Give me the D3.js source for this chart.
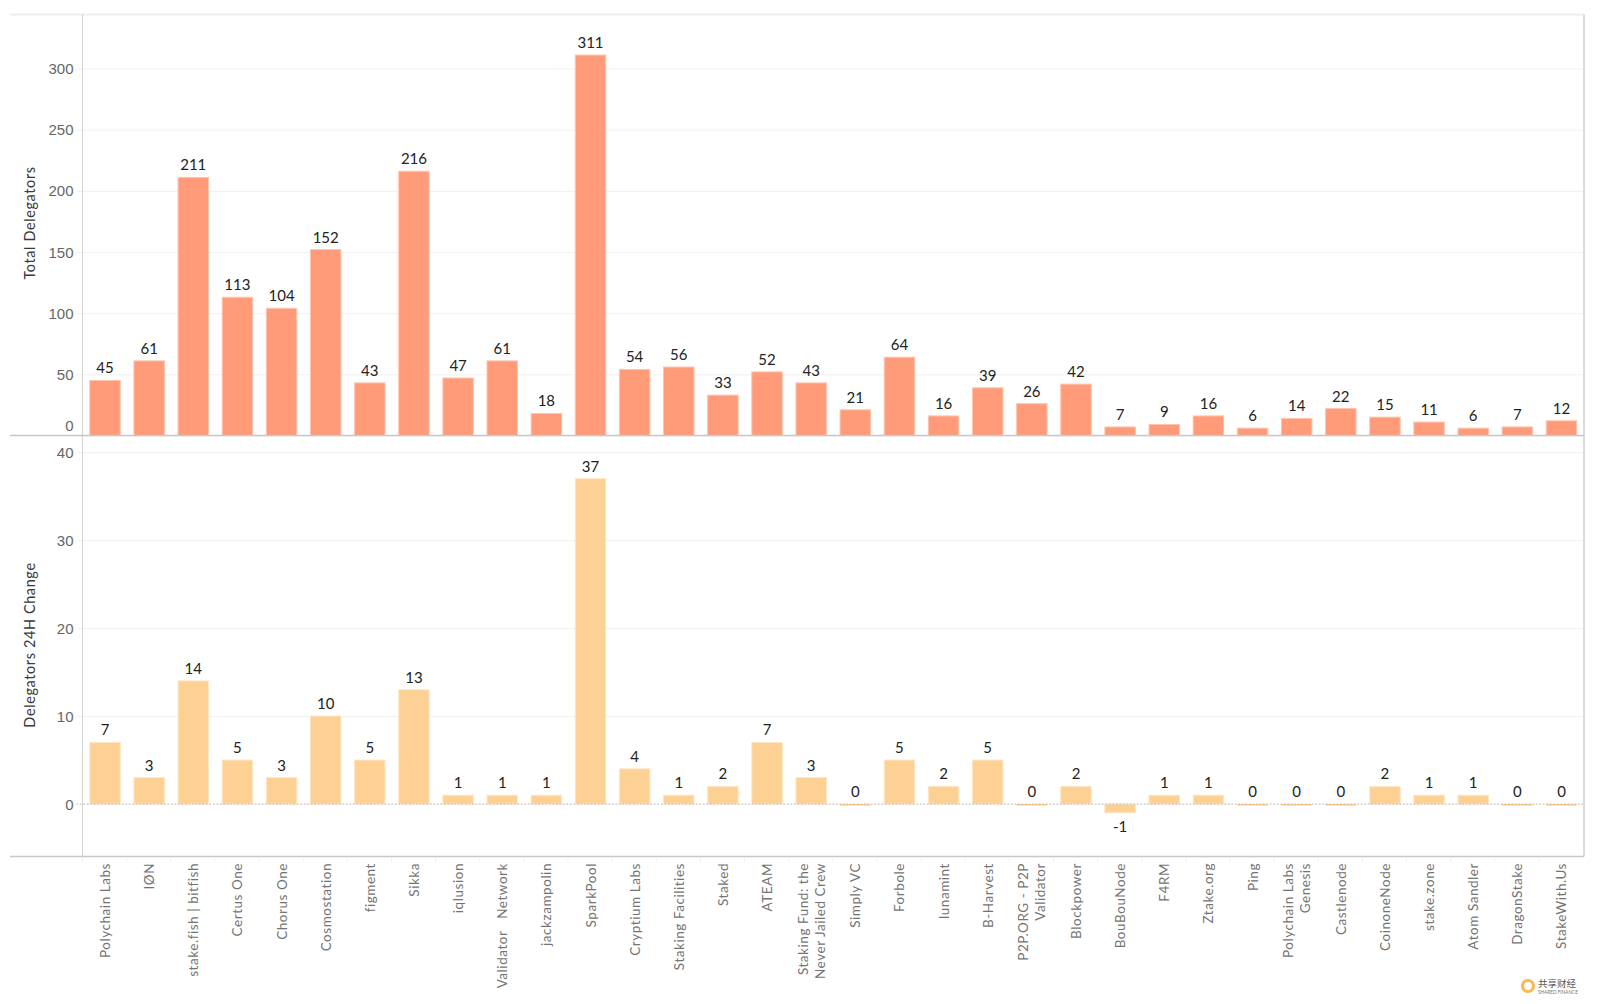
<!DOCTYPE html>
<html>
<head>
<meta charset="utf-8">
<script src="https://cdn.jsdelivr.net/npm/d3@7"></script>
<style>
  html, body { margin: 0; background: #fff; }
  svg { display: block; font-family: Lato, "Open Sans", sans-serif; }
  .tick text { fill: #666; font-size: 15px; }
  .cat text { fill: #737373; font-size: 13.5px; letter-spacing: 0.55px; }
  .val { fill: #222; font-size: 15px; text-anchor: middle; }
  .title { fill: #3a3a3a; font-size: 14.5px; letter-spacing: 0.6px; text-anchor: middle; }
</style>
</head>
<body>
<svg id="chart" width="1600" height="1004"></svg>
<script>
const categories = [
  "Polychain Labs", "IØN", "stake.fish | bitfish", "Certus One", "Chorus One", "Cosmostation",
  "figment", "Sikka", "iqlusion", "Validator   Network", "jackzampolin", "SparkPool",
  "Cryptium Labs", "Staking Facilities", "Staked", "ATEAM", "Staking Fund: the\nNever Jailed Crew",
  "Simply VC", "Forbole", "lunamint", "B-Harvest", "P2P.ORG - P2P\nValidator", "Blockpower",
  "BouBouNode", "F4RM", "Ztake.org", "Ping", "Polychain Labs\nGenesis", "Castlenode",
  "CoinoneNode", "stake.zone", "Atom Sandler", "DragonStake", "StakeWith.Us"
];
const totalDelegators = [
  45, 61, 211, 113, 104, 152, 43, 216, 47, 61, 18, 311, 54, 56, 33, 52, 43,
  21, 64, 16, 39, 26, 42, 7, 9, 16, 6, 14, 22, 15, 11, 6, 7, 12
];
const change24h = [
  7, 3, 14, 5, 3, 10, 5, 13, 1, 1, 1, 37, 4, 1, 2, 7, 3,
  0, 5, 2, 5, 0, 2, -1, 1, 1, 0, 0, 0, 2, 1, 1, 0, 0
];
const totalTicks = [0, 50, 100, 150, 200, 250, 300];
const changeTicks = [0, 10, 20, 30, 40];

const svg = d3.select("#chart");
const left = 82.5, right = 1584, top1 = 14.5, bottom = 856.5, outerLeft = 10;

const x = d3.scaleBand().domain(categories).range([left, right]).paddingInner(0.31).paddingOuter(0.165);
const yTotal = d3.scaleLinear().domain([0, 300]).range([435.5, 68.5]);
const yChange = d3.scaleLinear().domain([0, 40]).range([804, 452.3]);

function yAxis(scale, ticks) {
  const g = svg.append("g").attr("transform", `translate(${left},0)`)
    .call(d3.axisLeft(scale).tickValues(ticks).tickSize(6).tickPadding(3));
  g.select(".domain").remove();
  g.selectAll(".tick line").attr("x2", right - left).attr("x1", -6).attr("stroke", "#f0f0f0");
  g.selectAll(".tick text").attr("dy", "0.34em");
  return g;
}

function bars(values, scale, color, edge, flat) {
  const zero = scale(0);
  svg.append("g").selectAll("rect").data(values).join("rect")
    .attr("x", (d, i) => x(categories[i]))
    .attr("width", x.bandwidth())
    .attr("y", d => d >= 0 ? scale(d) : zero)
    .attr("height", d => d === 0 ? 1.5 : Math.abs(scale(d) - zero))
    .attr("fill", d => d === 0 ? flat : color)
    .attr("stroke", d => d === 0 ? "none" : edge)
    .attr("stroke-width", 1);
  svg.append("g").selectAll("text").data(values).join("text")
    .attr("class", "val")
    .attr("x", (d, i) => x(categories[i]) + x.bandwidth() / 2)
    .attr("y", d => d >= 0 ? scale(d) - 7 : scale(d) + 19)
    .text(d => d);
}

const totalAxis = yAxis(yTotal, totalTicks);
yAxis(yChange, changeTicks);
// the zero label of the top panel is lifted clear of the divider
totalAxis.selectAll(".tick").filter(d => d === 0).select("text").attr("y", -10);

bars(totalDelegators, yTotal, "#ff9b78", "#ffc4ae", "#ff9b78");
bars(change24h, yChange, "#fdd093", "#ffe6c4", "#fcc684");

// dotted zero line of the lower panel
svg.append("line").attr("x1", left - 6).attr("x2", right)
  .attr("y1", yChange(0)).attr("y2", yChange(0))
  .attr("stroke", "#bbb").attr("stroke-dasharray", "1.5 2");

// frame
const frame = svg.append("g").attr("fill", "none");
frame.append("path").attr("d", `M${outerLeft},${top1}H${right}`).attr("stroke", "#eeeeee").attr("stroke-width", 2);
frame.append("path").attr("d", `M${right},${top1}V${bottom}`).attr("stroke", "#dcdcdc").attr("stroke-width", 2);
frame.append("path").attr("d", `M${left},${top1}V${bottom}`).attr("stroke", "#d4d4d4");
frame.append("path").attr("d", `M${outerLeft},${yTotal(0)}H${right}`).attr("stroke", "#c8c8c8").attr("stroke-width", 1.5);
frame.append("path").attr("d", `M${outerLeft},${bottom}H${right}`).attr("stroke", "#c8c8c8").attr("stroke-width", 1.5);

// category ticks sit on the band edges
const step = x.step();
svg.append("g").selectAll("line").data(categories).join("line")
  .attr("x1", (d, i) => left + i * step).attr("x2", (d, i) => left + i * step)
  .attr("y1", bottom + 1).attr("y2", bottom + 6)
  .attr("stroke", "#f2f2f2");

// rotated category labels, right aligned to the axis
const cat = svg.append("g").attr("class", "cat").selectAll("text").data(categories).join("text")
  .attr("transform", d => `translate(${x(d) + x.bandwidth() / 2},${bottom + 6.5}) rotate(-90)`)
  .attr("text-anchor", "end")
  .attr("xml:space", "preserve");
cat.each(function(d) {
  const lines = d.split("\n");
  const t = d3.select(this);
  lines.forEach((line, i) => {
    t.append("tspan").attr("x", 0)
      .attr("y", (i - (lines.length - 1) / 2) * 17 + 5)
      .text(line);
  });
});

svg.append("text").attr("class", "title")
  .attr("transform", "translate(35,223) rotate(-90)").text("Total Delegators");
svg.append("text").attr("class", "title")
  .attr("transform", "translate(35,645) rotate(-90)").text("Delegators 24H Change");

// watermark
const logo = svg.append("g").attr("transform", "translate(1528,986)");
logo.append("circle").attr("r", 5.5).attr("fill", "#fff").attr("stroke", "#f8b655").attr("stroke-width", 3);
logo.append("text").attr("x", 10).attr("y", 1).attr("font-size", 9.5)
  .attr("font-family", "'Noto Sans CJK SC'").attr("fill", "#555").text("共享财经");
logo.append("text").attr("x", 10).attr("y", 7.5).attr("font-size", 4.7).attr("fill", "#777").text("SHARED FINANCE");
</script>
</body>
</html>
